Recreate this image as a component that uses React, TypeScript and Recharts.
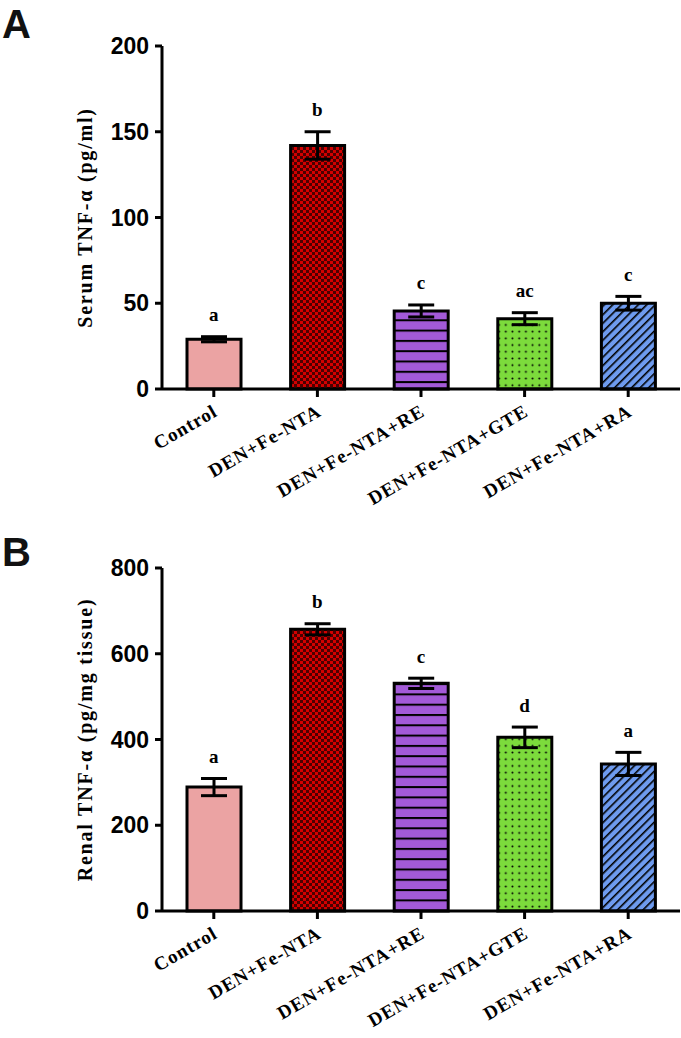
import React from 'react';
import { BarChart, Bar, XAxis, YAxis, ErrorBar, Cell, ReferenceDot, Label } from 'recharts';

const GROUPS = ['Control', 'DEN+Fe-NTA', 'DEN+Fe-NTA+RE', 'DEN+Fe-NTA+GTE', 'DEN+Fe-NTA+RA'];

// panel A: serum TNF-alpha (pg/ml)
const SERUM_MEAN = [29, 142, 45.5, 41, 50];
const SERUM_ERR = [1.5, 8, 3.5, 3.5, 4];
const SERUM_LETTERS = ['a', 'b', 'c', 'ac', 'c'];
const SERUM_TICKS = [0, 50, 100, 150, 200];

// panel B: renal TNF-alpha (pg/mg tissue)
const RENAL_MEAN = [289, 657, 531, 405, 343];
const RENAL_ERR = [20, 13, 12, 24, 27];
const RENAL_LETTERS = ['a', 'b', 'c', 'd', 'a'];
const RENAL_TICKS = [0, 200, 400, 600, 800];

const FILLS = ['#EBA3A3', 'url(#pat-chk)', 'url(#pat-hline)', 'url(#pat-dots)', 'url(#pat-diag)'];

const SERIF = "'Liberation Serif', 'Times New Roman', serif";
const NARROW = "'Liberation Sans Narrow', 'Arial Narrow', 'Liberation Sans', Arial, sans-serif";

function Patterns() {
  return (
    <svg width={0} height={0} style={{ position: 'absolute' }}>
      <defs>
        <pattern id="pat-chk" width={6} height={6} patternUnits="userSpaceOnUse">
          <rect width={6} height={6} fill="#D20000" />
          <rect x={0} y={0} width={3} height={3} fill="#4A0000" />
          <rect x={3} y={3} width={3} height={3} fill="#4A0000" />
        </pattern>
        <pattern id="pat-hline" width={10} height={10.3} patternUnits="userSpaceOnUse">
          <rect width={10} height={10.3} fill="#A35AD8" />
          <rect x={0} y={0} width={10} height={2} fill="#000" />
        </pattern>
        <pattern id="pat-dots" width={6.7} height={6.7} patternUnits="userSpaceOnUse">
          <rect width={6.7} height={6.7} fill="#7CDB3C" />
          <circle cx={3.3} cy={3.3} r={1} fill="#000" />
        </pattern>
        <pattern id="pat-diag" width={6} height={6} patternUnits="userSpaceOnUse" patternTransform="rotate(45)">
          <rect width={6} height={6} fill="#6E9BEF" />
          <rect x={0} y={0} width={1.6} height={6} fill="#000" />
        </pattern>
      </defs>
    </svg>
  );
}

function XTick(props: any) {
  const { x, y, payload } = props;
  const tx = x + 5;
  const ty = y + 16;
  return (
    <text
      x={tx}
      y={ty}
      textAnchor="end"
      transform={`rotate(-30 ${tx} ${ty})`}
      fontFamily={SERIF}
      fontWeight="bold"
      fontSize={19}
      letterSpacing={1}
      fill="#000"
    >
      {payload.value}
    </text>
  );
}

function Panel({ mean, err, letters, ticks, label, height, top, xHeight }: any) {
  const data = GROUPS.map((g, i) => ({ name: g, mean: mean[i], err: err[i] }));
  const max = ticks[ticks.length - 1];
  return (
    <BarChart width={681} height={height} data={data} margin={{ top, right: 1, bottom: 0, left: 0 }}>
      <XAxis
        dataKey="name"
        interval={0}
        height={xHeight}
        tick={<XTick />}
        tickSize={8}
        axisLine={{ stroke: '#000', strokeWidth: 3 }}
        tickLine={{ stroke: '#000', strokeWidth: 3 }}
      />
      <YAxis
        width={162}
        domain={[0, max]}
        ticks={ticks}
        tickSize={7}
        tickMargin={6}
        axisLine={{ stroke: '#000', strokeWidth: 3 }}
        tickLine={{ stroke: '#000', strokeWidth: 3 }}
        tick={{ fill: '#000', fontSize: 23, fontWeight: 'bold', fontFamily: NARROW }}
      >
        <Label
          content={({ viewBox }: any) => {
            const cy = viewBox.y + viewBox.height / 2;
            return (
              <text
                x={85}
                y={cy}
                textAnchor="middle"
                dominantBaseline="central"
                transform={`rotate(-90 85 ${cy})`}
                fontFamily={SERIF}
                fontWeight="bold"
                fontSize={20}
                letterSpacing={1.8}
                fill="#000"
              >
                {label}
              </text>
            );
          }}
        />
      </YAxis>
      <Bar dataKey="mean" barSize={54} stroke="#000" strokeWidth={3} isAnimationActive={false}>
        {data.map((d, i) => (
          <Cell key={d.name} fill={FILLS[i]} />
        ))}
        <ErrorBar dataKey="err" width={13} strokeWidth={3} stroke="#000" direction="y" isAnimationActive={false} />
      </Bar>
      {data.map((d, i) => (
        <ReferenceDot
          key={'l' + i}
          x={d.name}
          y={d.mean + d.err}
          r={0.5}
          fill="none"
          stroke="none"
          label={{
            value: letters[i],
            position: 'top',
            offset: 15,
            fill: '#000',
            fontSize: 19,
            fontWeight: 'bold',
            fontFamily: SERIF,
          }}
        />
      ))}
    </BarChart>
  );
}

export default function App() {
  const panelLetter: React.CSSProperties = {
    position: 'absolute',
    left: 2,
    fontFamily: NARROW,
    fontWeight: 'bold',
    fontSize: 40,
    lineHeight: 1.1,
    color: '#111',
  };
  return (
    <div style={{ position: 'absolute', left: 0, top: 0, width: 681, height: 1038, background: '#fff', overflow: 'hidden' }}>
      <Patterns />
      <div style={{ position: 'absolute', left: 0, top: 0 }}>
        <Panel
          mean={SERUM_MEAN}
          err={SERUM_ERR}
          letters={SERUM_LETTERS}
          ticks={SERUM_TICKS}
          label="Serum TNF-α (pg/ml)"
          height={508}
          top={46}
          xHeight={119}
        />
      </div>
      <div style={{ position: 'absolute', left: 0, top: 508 }}>
        <Panel
          mean={RENAL_MEAN}
          err={RENAL_ERR}
          letters={RENAL_LETTERS}
          ticks={RENAL_TICKS}
          label="Renal TNF-α (pg/mg tissue)"
          height={530}
          top={60}
          xHeight={127}
        />
      </div>
      <div style={{ ...panelLetter, top: 2 }}>A</div>
      <div style={{ ...panelLetter, top: 530 }}>B</div>
    </div>
  );
}
